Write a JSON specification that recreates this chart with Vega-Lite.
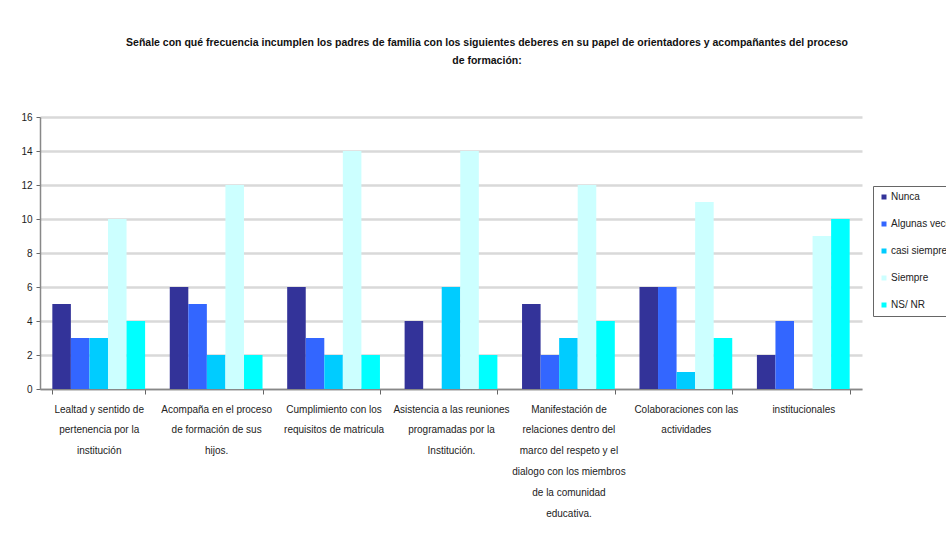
{
  "$schema": "https://vega.github.io/schema/vega-lite/v6.json",
  "width": 822,
  "height": 272,
  "autosize": {"type": "none"},
  "padding": {"left": 40, "top": 117, "right": 84, "bottom": 159},
  "background": "white",
  "title": {
    "text": ["Señale con qué frecuencia incumplen  los padres de familia  con los siguientes deberes  en su papel de orientadores y acompañantes  del proceso", "de formación:"],
    "anchor": "middle",
    "frame": "group",
    "dx": 36,
    "offset": 46,
    "font": "Liberation Sans",
    "fontSize": 10.5,
    "fontWeight": "bold",
    "color": "#111111",
    "lineHeight": 18
  },
  "data": {
    "values": [
      {"c": "Lealtad y sentido de|pertenencia por la|institución", "s": "Nunca", "v": 5},
      {"c": "Lealtad y sentido de|pertenencia por la|institución", "s": "Algunas  veces", "v": 3},
      {"c": "Lealtad y sentido de|pertenencia por la|institución", "s": "casi siempre", "v": 3},
      {"c": "Lealtad y sentido de|pertenencia por la|institución", "s": "Siempre", "v": 10},
      {"c": "Lealtad y sentido de|pertenencia por la|institución", "s": "NS/ NR", "v": 4},
      {"c": "Acompaña  en el proceso|de formación de sus|hijos.", "s": "Nunca", "v": 6},
      {"c": "Acompaña  en el proceso|de formación de sus|hijos.", "s": "Algunas  veces", "v": 5},
      {"c": "Acompaña  en el proceso|de formación de sus|hijos.", "s": "casi siempre", "v": 2},
      {"c": "Acompaña  en el proceso|de formación de sus|hijos.", "s": "Siempre", "v": 12},
      {"c": "Acompaña  en el proceso|de formación de sus|hijos.", "s": "NS/ NR", "v": 2},
      {"c": "Cumplimiento con los|requisitos de matricula", "s": "Nunca", "v": 6},
      {"c": "Cumplimiento con los|requisitos de matricula", "s": "Algunas  veces", "v": 3},
      {"c": "Cumplimiento con los|requisitos de matricula", "s": "casi siempre", "v": 2},
      {"c": "Cumplimiento con los|requisitos de matricula", "s": "Siempre", "v": 14},
      {"c": "Cumplimiento con los|requisitos de matricula", "s": "NS/ NR", "v": 2},
      {"c": "Asistencia a las reuniones|programadas por la|Institución.", "s": "Nunca", "v": 4},
      {"c": "Asistencia a las reuniones|programadas por la|Institución.", "s": "Algunas  veces", "v": 0},
      {"c": "Asistencia a las reuniones|programadas por la|Institución.", "s": "casi siempre", "v": 6},
      {"c": "Asistencia a las reuniones|programadas por la|Institución.", "s": "Siempre", "v": 14},
      {"c": "Asistencia a las reuniones|programadas por la|Institución.", "s": "NS/ NR", "v": 2},
      {"c": "Manifestación de|relaciones dentro del|marco del respeto y el|dialogo con los miembros|de la comunidad|educativa.", "s": "Nunca", "v": 5},
      {"c": "Manifestación de|relaciones dentro del|marco del respeto y el|dialogo con los miembros|de la comunidad|educativa.", "s": "Algunas  veces", "v": 2},
      {"c": "Manifestación de|relaciones dentro del|marco del respeto y el|dialogo con los miembros|de la comunidad|educativa.", "s": "casi siempre", "v": 3},
      {"c": "Manifestación de|relaciones dentro del|marco del respeto y el|dialogo con los miembros|de la comunidad|educativa.", "s": "Siempre", "v": 12},
      {"c": "Manifestación de|relaciones dentro del|marco del respeto y el|dialogo con los miembros|de la comunidad|educativa.", "s": "NS/ NR", "v": 4},
      {"c": "Colaboraciones con las|actividades", "s": "Nunca", "v": 6},
      {"c": "Colaboraciones con las|actividades", "s": "Algunas  veces", "v": 6},
      {"c": "Colaboraciones con las|actividades", "s": "casi siempre", "v": 1},
      {"c": "Colaboraciones con las|actividades", "s": "Siempre", "v": 11},
      {"c": "Colaboraciones con las|actividades", "s": "NS/ NR", "v": 3},
      {"c": "institucionales", "s": "Nunca", "v": 2},
      {"c": "institucionales", "s": "Algunas  veces", "v": 4},
      {"c": "institucionales", "s": "casi siempre", "v": 0},
      {"c": "institucionales", "s": "Siempre", "v": 9},
      {"c": "institucionales", "s": "NS/ NR", "v": 10}
    ]
  },
  "mark": {"type": "bar"},
  "encoding": {
    "x": {
      "field": "c",
      "type": "nominal",
      "sort": null,
      "title": null,
      "scale": {"paddingInner": 0.21, "paddingOuter": 0.105},
      "axis": {
        "labelExpr": "split(datum.label, '|')",
        "labelAngle": 0,
        "labelFont": "Liberation Sans",
        "labelFontSize": 10,
        "labelColor": "#222222",
        "labelLineHeight": 20.8,
        "labelPadding": 10,
        "labelLimit": 200,
        "tickBand": "extent",
        "tickColor": "#666666",
        "tickSize": 5,
        "domainColor": "#888888",
        "domainWidth": 1.5
      }
    },
    "xOffset": {
      "field": "s",
      "type": "nominal",
      "sort": ["Nunca", "Algunas  veces", "casi siempre", "Siempre", "NS/ NR"],
      "scale": {"paddingInner": 0, "paddingOuter": 0}
    },
    "y": {
      "field": "v",
      "type": "quantitative",
      "title": null,
      "scale": {"domain": [0, 16]},
      "axis": {
        "values": [0, 2, 4, 6, 8, 10, 12, 14, 16],
        "labelFont": "Liberation Sans",
        "labelFontSize": 10,
        "labelColor": "#222222",
        "labelPadding": 4,
        "tickSize": 4,
        "tickColor": "#666666",
        "domainColor": "#888888",
        "domainWidth": 1.5,
        "grid": true,
        "gridColor": "#d9d9d9",
        "gridWidth": 2.5
      }
    },
    "color": {
      "field": "s",
      "type": "nominal",
      "title": null,
      "scale": {
        "domain": ["Nunca", "Algunas  veces", "casi siempre", "Siempre", "NS/ NR"],
        "range": ["#333399", "#3366ff", "#00ccff", "#ccffff", "#00ffff"]
      },
      "legend": {
        "orient": "none",
        "legendX": 833,
        "legendY": 69,
        "symbolType": "square",
        "symbolSize": 25,
        "symbolStrokeWidth": 0,
        "labelFont": "Liberation Sans",
        "labelFontSize": 10,
        "labelColor": "#222222",
        "labelOffset": 2,
        "rowPadding": 17,
        "padding": 6,
        "strokeColor": "#666666",
        "fillColor": "white"
      }
    }
  },
  "config": {
    "view": {"stroke": null},
    "axis": {"domainCap": "butt"}
  }
}
